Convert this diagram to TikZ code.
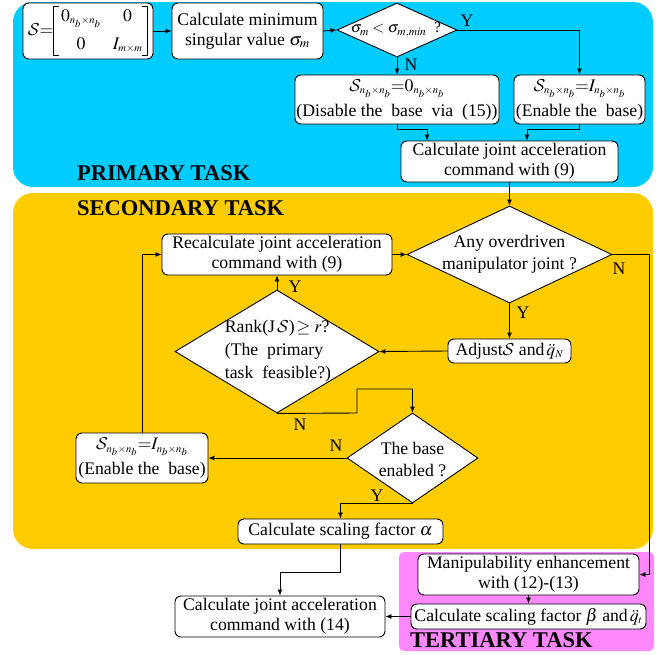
\documentclass[tikz,border=0pt]{standalone}
\usepackage{mathptmx}
\DeclareMathAlphabet{\mathcal}{OMS}{cmsy}{m}{n}
\usepackage{fontspec}
\setmainfont{Liberation Serif}
\usetikzlibrary{arrows.meta,shapes.geometric}
\definecolor{bluebg}{RGB}{0,204,255}
\definecolor{orangebg}{RGB}{255,204,0}
\definecolor{pinkbg}{RGB}{255,136,255}
\tikzset{
  box/.style={draw, fill=white, rounded corners=6pt, line width=0.9pt, align=center, inner sep=0pt, font=\fontsize{17.7}{20}\selectfont},
  dia/.style={draw, fill=white, line width=0.9pt, diamond, inner sep=0pt},
  dtext/.style={align=center, inner sep=0pt, font=\fontsize{17.7}{22}\selectfont},
  conn/.style={line width=0.9pt, -{Latex[length=6pt,width=5pt]}},
  lbl/.style={inner sep=0pt, font=\fontsize{17.7}{20}\selectfont},
  task/.style={inner sep=0pt, font=\fontsize{22.5}{24}\selectfont\bfseries},
}
\newcommand{\Ssub}{\mathcal{S}_{\scriptscriptstyle n_b\times n_b}}
\newcommand{\nbsub}{{\scriptscriptstyle n_b\times n_b}}
\newcommand{\lbrk}{\vcenter{\hbox{\vrule width0.8pt height50pt depth0pt\vbox to50pt{\hrule width5pt height0.8pt\vfill\hrule width5pt height0.8pt}}}}
\newcommand{\rbrk}{\vcenter{\hbox{\vbox to50pt{\hrule width5pt height0.8pt\vfill\hrule width5pt height0.8pt}\vrule width0.8pt height50pt depth0pt}}}
\begin{document}
\begin{tikzpicture}[x=1pt,y=-1pt]
\useasboundingbox (0,0) rectangle (662,654);
% backgrounds
\fill[bluebg, rounded corners=20pt] (13,2) rectangle (653,187);
\fill[orangebg, rounded corners=20pt] (13,193) rectangle (653,549);
\fill[pinkbg, rounded corners=5pt] (399,552) rectangle (654,651);
\node[task, anchor=west] (tp) at (77,173) {PRIMARY TASK};
\node[task, anchor=west] (ts) at (77,208) {SECONDARY TASK};
\node[task, anchor=west] (tt) at (410,640) {TERTIARY TASK};
% primary
\node[box, minimum width=130pt, minimum height=56pt] (mat) at (88,31)
  {$\mathcal{S}{=}\lbrk\begin{array}{@{\,}c@{\hspace{12pt}}c@{}}0_{\nbsub} & 0\\[8pt] 0 & I_{\scriptscriptstyle m\times m}\end{array}\rbrk$};
\node[box, minimum width=151pt, minimum height=56pt] (cmin) at (247.5,31)
  {Calculate minimum\\singular value $\sigma_m$};
\node[dia, minimum width=120pt, minimum height=54pt] (d1) at (397,30) {};
\node[dtext, font=\fontsize{15.5}{18}\selectfont] (d1t) at (396,30) {$\sigma_m<\sigma_{m,min}$\ \ ?};
\node[box, minimum width=204pt, minimum height=49pt, font=\fontsize{17.7}{25}\selectfont] (dis) at (397,99.5)
  {$\Ssub{=}0_{\nbsub}$\\(Disable the\ \ base\ \ via\ \ (15))};
\node[box, minimum width=131pt, minimum height=49pt, font=\fontsize{17.7}{25}\selectfont] (en1) at (579.5,99.5)
  {$\Ssub{=}I_{\nbsub}$\\(Enable the\ \ base)};
\node[box, minimum width=217pt, minimum height=41pt] (cj9) at (509.5,161.5)
  {Calculate joint acceleration\\command with (9)};
% secondary
\node[dia, minimum width=205pt, minimum height=97pt] (d2) at (509.5,254.5) {};
\node[dtext] (d2t) at (509.5,254.5) {Any overdriven\\manipulator joint ?};
\node[box, minimum width=230pt, minimum height=41pt] (rec) at (277,254.5)
  {Recalculate joint acceleration\\command with (9)};
\node[box, minimum width=123pt, minimum height=24pt] (adj) at (509.5,351)
  {Adjust$\mathcal{S}$ and$\,\ddot{q}_{\scriptscriptstyle N}$};
\node[dia, minimum width=204pt, minimum height=123pt] (d3) at (277,351.5) {};
\node[dtext, align=left, font=\fontsize{17.7}{23}\selectfont] (d3t) at (278,351.5)
  {Rank(J$\,\mathcal{S}$)$\,\geq r$?\\(The\ \ primary\\task\ \ feasible?)};
\node[dia, minimum width=131pt, minimum height=90pt] (d4) at (412.5,458) {};
\node[dtext] (d4t) at (412.5,459) {The base\\enabled ?};
\node[box, minimum width=132pt, minimum height=50pt, font=\fontsize{17.7}{25}\selectfont] (en2) at (142,458)
  {$\Ssub{=}I_{\nbsub}$\\(Enable the\ \ base)};
\node[box, minimum width=205pt, minimum height=25pt] (alp) at (340.5,531.5)
  {Calculate scaling factor $\alpha$};
% tertiary
\node[box, minimum width=210pt, minimum height=41pt] (cj14) at (280,616.5)
  {Calculate joint acceleration\\command with (14)};
\node[box, minimum width=221pt, minimum height=41pt] (man) at (528.5,574.5)
  {Manipulability enhancement\\with (12)-(13)};
\node[box, minimum width=235pt, minimum height=25pt] (bet) at (528.5,616.5)
  {Calculate scaling factor $\beta$ and$\,\ddot{q}_{\scriptscriptstyle t}$};
% connectors
\draw[conn] (mat.east) -- (cmin.west);
\draw[conn] (cmin.east) -- (d1.west);
\draw[conn] (d1.east) -| (en1.north);
\node[lbl] (ly1) at (467,21) {Y};
\draw[conn] (d1.south) -- (dis.north);
\node[lbl] (ln1) at (411,65) {N};
\coordinate (c9a) at ([xshift=-82.5pt]cj9.north);
\coordinate (c9b) at ([xshift=17.5pt]cj9.north);
\draw[conn] (dis.south) -- ++(0,5) -| (c9a);
\draw[conn] (en1.south) -- ++(0,5) -| (c9b);
\draw[conn] (cj9.south) -- (d2.north);
\coordinate (rN) at (649,254.5);
\draw[conn] (d2.east) -- (rN) |- (man.east);
\node[lbl] (ln2) at (619,269) {N};
\draw[conn] (d2.south) -- (adj.north);
\node[lbl] (ly2) at (523,313) {Y};
\draw[conn] (adj.west) -- (d3.east);
\draw[conn] (d3.north) -- (rec.south);
\node[lbl] (ly3) at (295,287) {Y};
\draw[conn] (rec.east) -- (d2.west);
\coordinate (k1) at (357,413);
\coordinate (k2) at (357,389);
\draw[conn] (d3.south) -- (k1) -- (k2) -| (d4.north);
\node[lbl] (ln3) at (300,425) {N};
\draw[conn] (d4.west) -- (en2.east);
\node[lbl] (ln4) at (336,446) {N};
\draw[conn] (en2.north) |- (rec.west);
\draw[conn] (d4.south) -| (alp.north);
\node[lbl] (ly4) at (377,496) {Y};
\coordinate (k3) at (340.5,572);
\draw[conn] (alp.south) -- (k3) -| (cj14.north);
\draw[conn] (man.south) -- (bet.north);
\draw[conn] (bet.west) -- (cj14.east);
\end{tikzpicture}
\end{document}
